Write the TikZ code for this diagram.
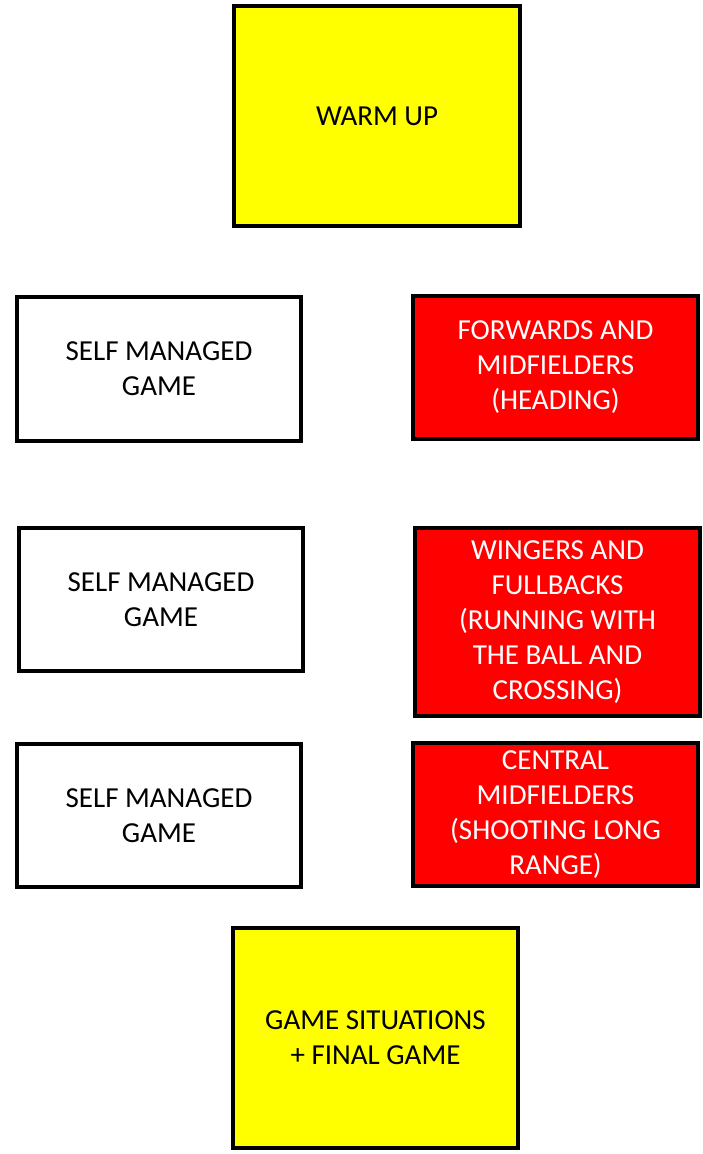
\documentclass[tikz,border=0pt]{standalone}
\usepackage{fontspec}
\setmainfont{Carlito}
\definecolor{ybox}{RGB}{255,255,0}
\definecolor{rbox}{RGB}{255,0,0}
\begin{document}
\begin{tikzpicture}[x=1pt,y=-1pt,
  box/.style={draw=black, line width=4pt, align=center, inner sep=0pt,
    font=\fontsize{29}{35}\selectfont},
  yel/.style={box, fill=ybox, text=black},
  wht/.style={box, fill=white, text=black},
  red/.style={box, fill=rbox, text=white}]
\useasboundingbox (0,0) rectangle (703,1154);
\node[yel, minimum width=286pt, minimum height=220pt] (warm) at (377,116) {WARM UP};
\node[wht, minimum width=284pt, minimum height=144pt] (s1) at (159,369) {SELF MANAGED\\GAME};
\node[red, minimum width=285pt, minimum height=143pt] (fw) at (555.5,367.5) {FORWARDS AND\\MIDFIELDERS\\(HEADING)};
\node[wht, minimum width=284pt, minimum height=143pt] (s2) at (161,599.5) {SELF MANAGED\\GAME};
\node[red, minimum width=285pt, minimum height=188pt] (wg) at (557.5,622) {WINGERS AND\\FULLBACKS\\(RUNNING WITH\\THE BALL AND\\CROSSING)};
\node[wht, minimum width=284pt, minimum height=143pt] (s3) at (159,815.5) {SELF MANAGED\\GAME};
\node[red, minimum width=285pt, minimum height=143pt] (cm) at (555.5,814.5) {CENTRAL\\MIDFIELDERS\\(SHOOTING LONG\\RANGE)};
\node[yel, minimum width=285pt, minimum height=220pt] (gs) at (375.5,1038) {GAME SITUATIONS\\+ FINAL GAME};
\end{tikzpicture}
\end{document}
